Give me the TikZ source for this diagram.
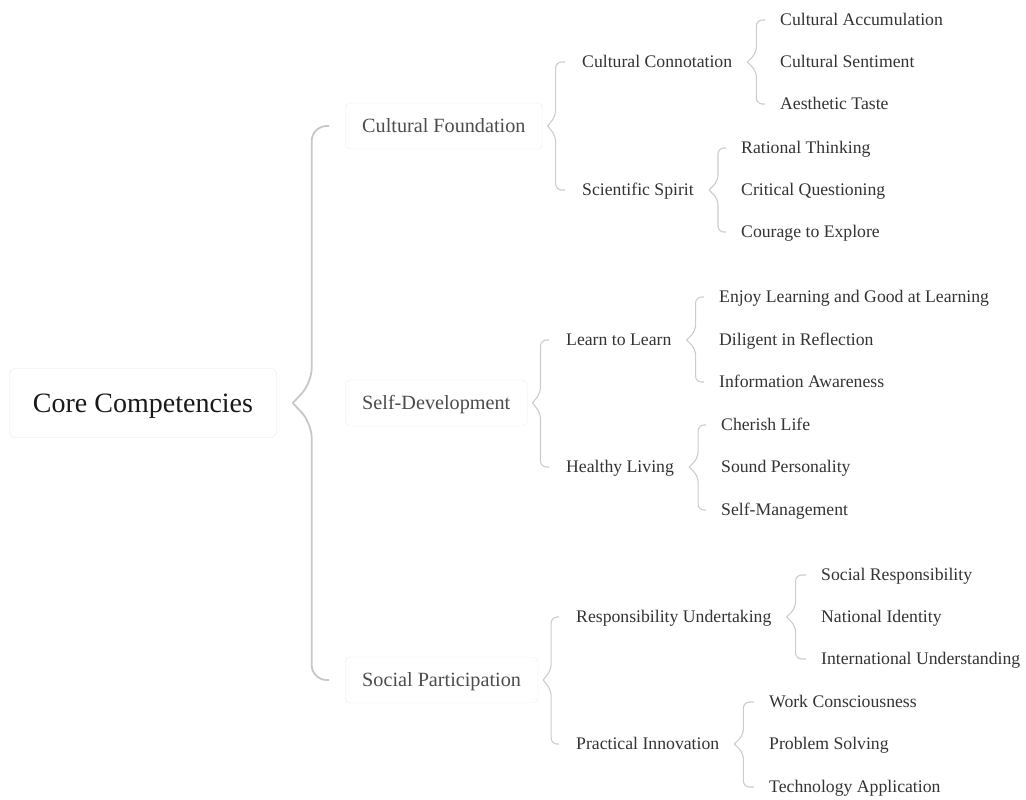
\documentclass[tikz,border=0pt]{standalone}
\usepackage{fontspec}
\setmainfont{Liberation Serif}

\tikzset{
  rootbox/.style={draw=black!9, fill=white, rounded corners=6pt, minimum width=267pt,
    minimum height=69pt, text height=18.5pt, text depth=0pt,
    font=\fontsize{28}{32}\selectfont, text=black!90},
  topicbox/.style={draw=black!7, fill=white, rounded corners=5pt, anchor=west,
    inner xsep=17pt, minimum height=46pt, text height=13.4pt, text depth=0pt,
    font=\fontsize{20.2}{24}\selectfont, text=black!70},
  subtopic/.style={anchor=west, inner sep=0pt, text height=11.7pt, text depth=0pt,
    font=\fontsize{17.7}{21}\selectfont, text=black!80},
  leaf/.style={subtopic},
  fork/.style={draw=black!20, line width=1.1pt, rounded corners=6pt},
  rootfork/.style={draw=black!22, line width=1.8pt, rounded corners=15pt}
}

\begin{document}
\begin{tikzpicture}[x=1pt,y=-1pt]
\useasboundingbox (0,0) rectangle (1026,800);

\node[rootbox] (core) at (143,403) {Core Competencies};

\node[topicbox] (found) at (345,126) {Cultural Foundation};
\node[topicbox] (selfdev) at (345,403) {Self-Development};
\node[topicbox] (social) at (345,680) {Social Participation};

\draw[rootfork] ([xshift=16]core.east) -- ++(19,-20) |- ([xshift=-16]found.west);
\draw[rootfork] ([xshift=16]core.east) -- ++(19,20) |- ([xshift=-16]social.west);

% Cultural Foundation
\node[subtopic] (conn) at (582,62) {Cultural Connotation};
\node[subtopic] (sci) at (582,190) {Scientific Spirit};
\draw[fork] ([xshift=5]found.east) -- ++(8,-10) |- ([xshift=-17]conn.west);
\draw[fork] ([xshift=5]found.east) -- ++(8,10) |- ([xshift=-17]sci.west);

\node[leaf] (accum) at (780,20) {Cultural Accumulation};
\node[leaf] (senti) at (780,62) {Cultural Sentiment};
\node[leaf] (taste) at (780,104) {Aesthetic Taste};
\draw[fork] ([xshift=15]conn.east) -- ++(9,-9) |- ([xshift=-15]accum.west);
\draw[fork] ([xshift=15]conn.east) -- ++(9,9) |- ([xshift=-15]taste.west);

\node[leaf] (ration) at (741,148) {Rational Thinking};
\node[leaf] (critic) at (741,190) {Critical Questioning};
\node[leaf] (explore) at (741,232) {Courage to Explore};
\draw[fork] ([xshift=15]sci.east) -- ++(9,-9) |- ([xshift=-15]ration.west);
\draw[fork] ([xshift=15]sci.east) -- ++(9,9) |- ([xshift=-15]explore.west);

% Self-Development
\node[subtopic] (learn) at (566,340) {Learn to Learn};
\node[subtopic] (health) at (566,467) {Healthy Living};
\draw[fork] ([xshift=5]selfdev.east) -- ++(8,-10) |- ([xshift=-17]learn.west);
\draw[fork] ([xshift=5]selfdev.east) -- ++(8,10) |- ([xshift=-17]health.west);

\node[leaf] (enjoy) at (719,297) {Enjoy Learning and Good at Learning};
\node[leaf] (dilig) at (719,340) {Diligent in Reflection};
\node[leaf] (inform) at (719,382) {Information Awareness};
\draw[fork] ([xshift=15]learn.east) -- ++(9,-9) |- ([xshift=-15]enjoy.west);
\draw[fork] ([xshift=15]learn.east) -- ++(9,9) |- ([xshift=-15]inform.west);

\node[leaf] (cherish) at (721,425) {Cherish Life};
\node[leaf] (sound) at (721,467) {Sound Personality};
\node[leaf] (selfman) at (721,510) {Self-Management};
\draw[fork] ([xshift=15]health.east) -- ++(9,-9) |- ([xshift=-15]cherish.west);
\draw[fork] ([xshift=15]health.east) -- ++(9,9) |- ([xshift=-15]selfman.west);

% Social Participation
\node[subtopic] (resp) at (576,617) {Responsibility Undertaking};
\node[subtopic] (pract) at (576,744) {Practical Innovation};
\draw[fork] ([xshift=5]social.east) -- ++(8,-10) |- ([xshift=-17]resp.west);
\draw[fork] ([xshift=5]social.east) -- ++(8,10) |- ([xshift=-17]pract.west);

\node[leaf] (socresp) at (821,575) {Social Responsibility};
\node[leaf] (nation) at (821,617) {National Identity};
\node[leaf] (intl) at (821,659) {International Understanding};
\draw[fork] ([xshift=15]resp.east) -- ++(9,-9) |- ([xshift=-15]socresp.west);
\draw[fork] ([xshift=15]resp.east) -- ++(9,9) |- ([xshift=-15]intl.west);

\node[leaf] (work) at (769,702) {Work Consciousness};
\node[leaf] (problem) at (769,744) {Problem Solving};
\node[leaf] (techapp) at (769,787) {Technology Application};
\draw[fork] ([xshift=15]pract.east) -- ++(9,-9) |- ([xshift=-15]work.west);
\draw[fork] ([xshift=15]pract.east) -- ++(9,9) |- ([xshift=-15]techapp.west);

\end{tikzpicture}
\end{document}
